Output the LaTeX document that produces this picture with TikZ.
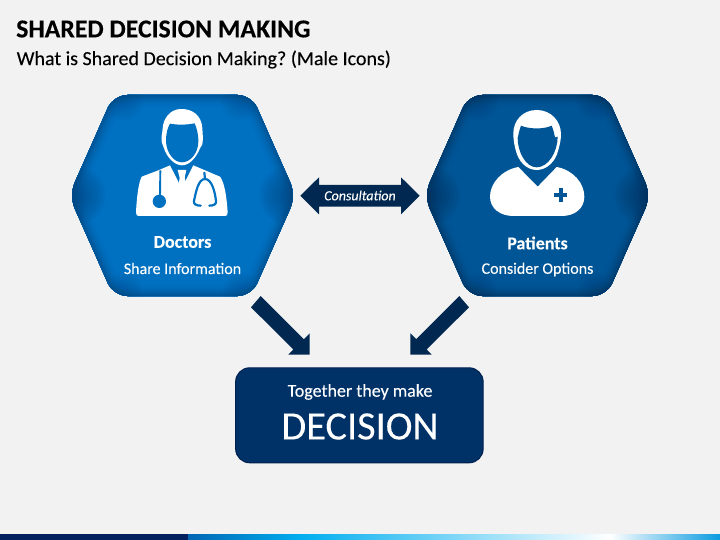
\documentclass[tikz,border=0pt]{standalone}
\usepackage{fontspec}
\setmainfont[FakeBold=0.12]{Carlito}
\definecolor{bg}{HTML}{F2F2F2}
\definecolor{hexa}{HTML}{0070C0}
\definecolor{hexaedge}{HTML}{003F75}
\definecolor{hexb}{HTML}{005596}
\definecolor{hexbedge}{HTML}{002C55}
\definecolor{navy}{HTML}{002850}
\definecolor{boxfill}{HTML}{003268}
\definecolor{boxedge}{HTML}{002050}
\definecolor{bardark}{HTML}{002060}
\definecolor{barmid}{HTML}{0066B3}
\definecolor{barcyan}{HTML}{00AEEF}
\definecolor{barend}{HTML}{0A9BE0}
\newcommand{\hexpath}[1]{[rounded corners=14pt] ($(#1)+(-113.5,0)$) -- ($(#1)+(-69,-100.5)$) -- ($(#1)+(69,-100.5)$) -- ($(#1)+(113.5,0)$) -- ($(#1)+(69,100.5)$) -- ($(#1)+(-69,100.5)$) -- cycle}
\newcommand{\hexagonfill}[3]{%
  \begin{scope}
    \clip \hexpath{#1};
    \fill[#2] \hexpath{#1};
    \foreach \d in {14,13,...,1}{
      \pgfmathsetmacro{\mixv}{65*(1-\d/14)*(1-\d/14)}
      \draw[line width=2*\d pt,#3!\mixv!#2,line join=round] \hexpath{#1};
    }
    \foreach \cx/\cy/\rmax/\op in {-107/0/30/0.05,107/0/30/0.05,-60/-97/22/0.03,60/-97/22/0.03,-60/97/20/0.03,60/97/20/0.03}{
      \foreach \r in {4,6,...,\rmax}{
        \fill[#3,opacity=\op] ($(#1)+(\cx,\cy)$) circle[radius=\r];
      }
    }
  \end{scope}}
\tikzset{
  heading/.style={font=\fontsize{#1}{#1}\selectfont,text=white,inner sep=0pt,anchor=center},
  blockarrow/.style={fill=navy,draw=none},
}
\usetikzlibrary{calc}
\frenchspacing
\begin{document}
\begin{tikzpicture}[x=1pt,y=-1pt]
\useasboundingbox (0,0) rectangle (720,540);
\fill[bg] (0,0) rectangle (720,540);
% title
\node[anchor=west,inner sep=0pt,font=\fontsize{25.8}{26}\selectfont\bfseries,text=black] (title) at (16,29) {SHARED DECISION MAKING};
\node[anchor=west,inner sep=0pt,font=\fontsize{20}{20}\selectfont,text=black] (subtitle) at (16.5,59.5) {What is Shared Decision Making? (Male Icons)};
% hexagons
\coordinate (hexD) at (182.5,195.5);
\coordinate (hexP) at (537.5,195.5);
\hexagonfill{hexD}{hexa}{hexaedge}
\hexagonfill{hexP}{hexb}{hexbedge}
% doctor icon
\begin{scope}[shift={(130,105)},x=0.33333pt,y=-0.33333pt]
  \fill[white] (150,12) .. controls (185,10) and (215,30) .. (217,70) .. controls (218,90) and (220,100) .. (217,118) .. controls (214,122) and (212,125) .. (210,130) .. controls (200,155) and (180,181) .. (156,181) .. controls (132,181) and (110,155) .. (102,130) .. controls (100,122) and (96,118) .. (95,110) .. controls (93,95) and (97,85) .. (98,70) .. controls (100,40) and (120,14) .. (150,12) -- cycle;
  \fill[hexa] (120,56) .. controls (140,60) and (170,60) .. (194,55) .. controls (200,70) and (205,85) .. (205,110) .. controls (205,145) and (180,172) .. (156,172) .. controls (132,172) and (110,145) .. (108,110) .. controls (108,85) and (112,70) .. (120,56) -- cycle;
  \fill[white] (18,322) .. controls (20,280) and (25,235) .. (35,215) -- (85,196) -- (120,181) -- (155,250) -- (190,181) -- (270,215) .. controls (285,235) and (290,280) .. (293,322) .. controls (293,330) and (290,333) .. (285,333) -- (26,333) .. controls (21,333) and (18,330) .. (18,322) -- cycle;
  \fill[white] (143,195) -- (169,195) -- (164,218) -- (170,240) -- (156,254) -- (146,240) -- (149,218) -- cycle;
  \draw[hexa,line width=1.9pt] (91,196) -- (90,275);
  \fill[hexa] (88,289) circle[radius=20];
  \draw[hexa,line width=2.2pt,line cap=round] (223,203) -- (225,222) .. controls (205,222) and (198,260) .. (192,288) .. controls (190,298) and (200,302) .. (212,302);
  \draw[hexa,line width=2.2pt,line cap=round] (225,222) .. controls (245,222) and (255,260) .. (258,288) .. controls (260,298) and (250,302) .. (238,302);
\end{scope}
% patient icon
\begin{scope}[shift={(485,105)},x=0.33333pt,y=-0.33333pt]
  \fill[white] (155,15) .. controls (198,15) and (228,48) .. (228,88) .. controls (228,110) and (222,125) .. (220,135) .. controls (212,170) and (185,195) .. (155,195) .. controls (125,195) and (100,170) .. (92,135) .. controls (88,120) and (85,105) .. (85,85) .. controls (85,48) and (112,15) .. (155,15) -- cycle;
  \fill[hexb] (108,62) .. controls (130,72) and (175,74) .. (200,62) .. controls (205,75) and (208,85) .. (210,97) -- (218,95) .. controls (218,140) and (190,187) .. (155,187) .. controls (122,187) and (98,140) .. (98,100) .. controls (100,90) and (103,75) .. (108,62) -- cycle;
  \fill[white] (100,186) -- (158,245) -- (215,186) .. controls (265,195) and (298,235) .. (298,275) .. controls (298,310) and (270,333) .. (230,333) -- (85,333) .. controls (45,333) and (15,310) .. (15,275) .. controls (15,235) and (50,195) .. (100,186) -- cycle;
  \fill[hexb] (207,264) rectangle (247,276);
  \fill[hexb] (221,250) rectangle (233,290);
\end{scope}
% hexagon labels
\node[heading=18,font=\fontsize{18}{18}\selectfont\bfseries] (doctors) at (182.5,242) {Doctors};
\node[heading=16] (share) at (182.5,268.5) {Share Information};
\node[heading=18,font=\fontsize{18}{18}\selectfont\bfseries] (patients) at (537.5,243) {Patients};
\node[heading=16] (consider) at (537.5,269.5) {Consider Options};
% consultation arrow
\coordinate (consultL) at (300.3,195.7);
\fill[blockarrow] (consultL) -- ++(18.7,-18.4) -- ++(0,7.7) -- ++(82,0) -- ++(0,-7.7) -- ++(18.7,18.4) -- ++(-18.7,18.6) -- ++(0,-7.7) -- ++(-82,0) -- ++(0,7.7) -- cycle;
\node[heading=14,font=\fontsize{14}{14}\selectfont\itshape] (consult) at (360,195.5) {Consultation};
% decision box
\node[draw=boxedge,fill=boxfill,line width=1pt,rounded corners=14pt,minimum width=247.5pt,minimum height=95pt,inner sep=0pt] (box) at (359.4,415.3) {};
\node[heading=18] (together) at (360,392) {Together they make};
\node[heading=40.3,font=\fontsize{40.3}{41}\selectfont] (decision) at (360,426.5) {DECISION};
% down arrows
\coordinate (tipL) at (309.7,354.7);
\coordinate (tipR) at (410.3,354.7);
\fill[blockarrow] (tipL) -- ++(0,-21.4) -- ++(-5.9,5.9) -- ++(-43.1,-43.2) -- ++(-9.7,11.3) -- ++(42.3,42.1) -- ++(-5,5.3) -- cycle;
\fill[blockarrow] (tipR) -- ++(0,-21.4) -- ++(5.9,5.9) -- ++(43.1,-43.2) -- ++(9.7,11.3) -- ++(-42.3,42.1) -- ++(5,5.3) -- cycle;
% bottom bar
\fill[bardark] (0,534) rectangle (188,540);
\shade[left color=barmid,right color=barcyan,draw=none] (188,534) rectangle (300,540);
\shade[left color=barcyan,right color=white,draw=none] (299.5,534) rectangle (610,540);
\shade[left color=white,right color=barend,draw=none] (609.5,534) rectangle (720,540);
\end{tikzpicture}
\end{document}
